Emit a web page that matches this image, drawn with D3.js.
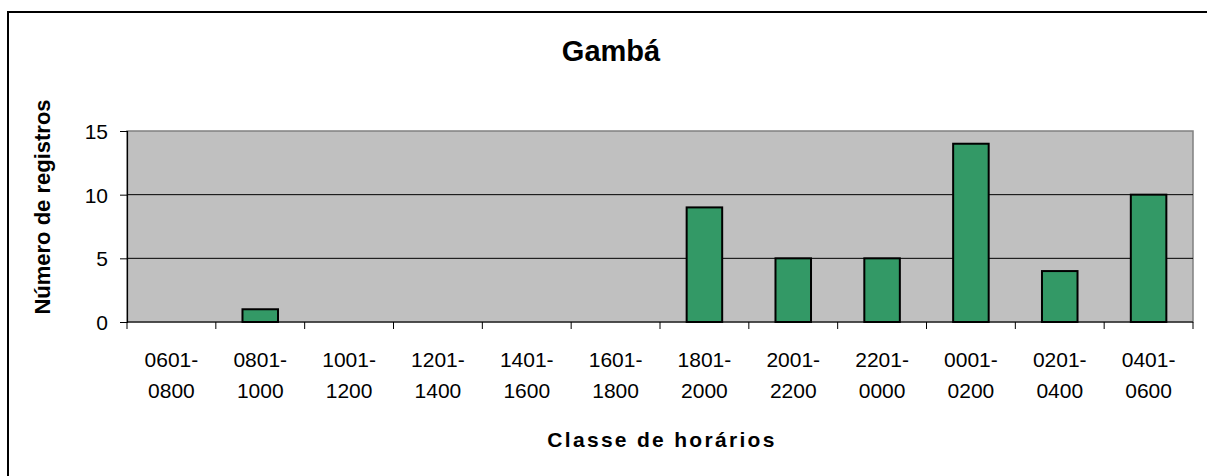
<!DOCTYPE html>
<html>
<head>
<meta charset="utf-8">
<script src="https://cdn.jsdelivr.net/npm/d3@7"></script>
<style>
  body { margin: 0; background: #fff; }
  text { font-family: "Liberation Sans", Arial, sans-serif; fill: #000; }
</style>
</head>
<body>
<div id="chart"></div>
<script>
// data
const categories = ["0601-0800", "0801-1000", "1001-1200", "1201-1400", "1401-1600", "1601-1800",
                    "1801-2000", "2001-2200", "2201-0000", "0001-0200", "0201-0400", "0401-0600"];
const registros = [0, 1, 0, 0, 0, 0, 9, 5, 5, 14, 4, 10];
const yTicks = [0, 5, 10, 15];

const W = 1207, H = 476;
const plot = { left: 127, right: 1193, top: 131, bottom: 322 };

const svg = d3.select("#chart").append("svg")
    .attr("width", W)
    .attr("height", H);

// outer chart border (only left/top are inside the picture)
svg.append("rect")
    .attr("x", 8).attr("y", 12)
    .attr("width", 1220).attr("height", 490)
    .attr("fill", "#fff")
    .attr("stroke", "#000")
    .attr("stroke-width", 2);

const x = d3.scaleBand()
    .domain(categories)
    .range([plot.left, plot.right])
    .padding(0);

const y = d3.scaleLinear()
    .domain([0, 15])
    .range([plot.bottom, plot.top]);

// plot area
svg.append("rect")
    .attr("x", plot.left).attr("y", plot.top)
    .attr("width", plot.right - plot.left)
    .attr("height", plot.bottom - plot.top)
    .attr("fill", "#c0c0c0")
    .attr("stroke", "#808080")
    .attr("stroke-width", 1.5);

// gridlines
svg.append("g")
    .selectAll("line")
    .data(yTicks.filter(d => d > 0 && d < 15))
    .enter()
    .append("line")
    .attr("x1", plot.left).attr("x2", plot.right)
    .attr("y1", d => y(d)).attr("y2", d => y(d))
    .attr("stroke", "#000")
    .attr("stroke-width", 1);

// bars
const barW = x.bandwidth() * 0.4;
svg.append("g")
    .selectAll("rect")
    .data(categories.map((c, i) => ({ c, v: registros[i] })).filter(d => d.v > 0))
    .enter()
    .append("rect")
    .attr("x", d => x(d.c) + (x.bandwidth() - barW) / 2)
    .attr("y", d => y(d.v))
    .attr("width", barW)
    .attr("height", d => y(0) - y(d.v))
    .attr("fill", "#339966")
    .attr("stroke", "#000")
    .attr("stroke-width", 2);

// y axis
const yAxis = svg.append("g")
    .attr("transform", `translate(${plot.left},0)`)
    .call(d3.axisLeft(y).tickValues(yTicks).tickSize(7).tickPadding(12).tickFormat(d3.format("d")));
yAxis.select(".domain").attr("stroke", "#000").attr("stroke-width", 1.2);
yAxis.selectAll(".tick line").attr("stroke", "#000");
yAxis.selectAll(".tick text")
    .attr("font-size", 21)
    .attr("font-family", "'Liberation Sans', Arial, sans-serif")
    .attr("fill", "#000")
    .attr("dy", "0.36em");

// x axis line
svg.append("line")
    .attr("x1", plot.left).attr("x2", plot.right)
    .attr("y1", plot.bottom).attr("y2", plot.bottom)
    .attr("stroke", "#000")
    .attr("stroke-width", 1.2);

// tick marks at category boundaries
const bounds = categories.map(c => x(c)).concat([x.range()[1]]);
svg.append("g")
    .selectAll("line")
    .data(bounds)
    .enter()
    .append("line")
    .attr("x1", d => d).attr("x2", d => d)
    .attr("y1", plot.bottom).attr("y2", plot.bottom + 7)
    .attr("stroke", "#000");

// two-line category labels
const lab = svg.append("g")
    .selectAll("text")
    .data(categories)
    .enter()
    .append("text")
    .attr("text-anchor", "middle")
    .attr("font-size", 21);
lab.append("tspan")
    .attr("x", d => x(d) + x.bandwidth() / 2)
    .attr("y", 367)
    .text(d => d.split("-")[0] + "-");
lab.append("tspan")
    .attr("x", d => x(d) + x.bandwidth() / 2)
    .attr("y", 398)
    .text(d => d.split("-")[1]);

// titles
svg.append("text")
    .attr("x", 611).attr("y", 61)
    .attr("text-anchor", "middle")
    .attr("font-size", 29)
    .attr("font-weight", "bold")
    .text("Gambá");

svg.append("text")
    .attr("x", 662).attr("y", 447)
    .attr("text-anchor", "middle")
    .attr("font-size", 21)
    .attr("font-weight", "bold")
    .attr("letter-spacing", 2.3)
    .text("Classe de horários");

svg.append("text")
    .attr("transform", "translate(50,207) rotate(-90)")
    .attr("text-anchor", "middle")
    .attr("font-size", 22)
    .attr("font-weight", "bold")
    .text("Número de registros");
</script>
</body>
</html>
